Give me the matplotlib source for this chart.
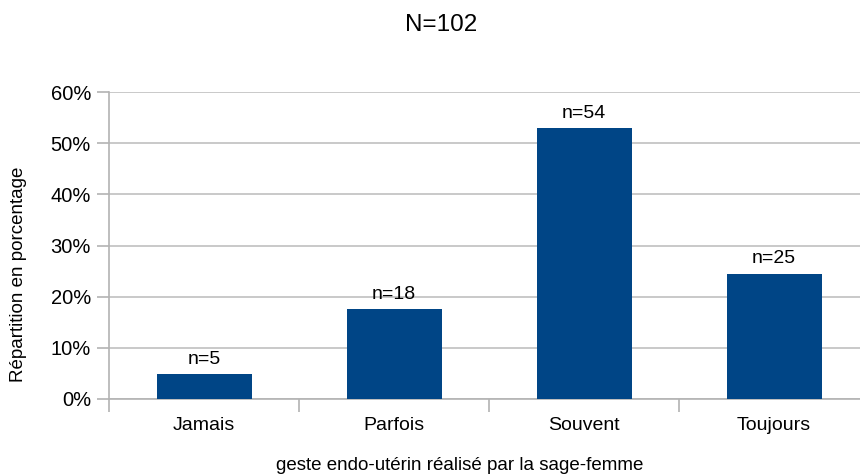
import matplotlib
matplotlib.use("Agg")
import matplotlib.pyplot as plt

categories = ["Jamais", "Parfois", "Souvent", "Toujours"]
counts = [5, 18, 54, 25]
total = 102
percent = [c / total * 100 for c in counts]
yticks = [0, 10, 20, 30, 40, 50, 60]

plt.rcParams['font.family'] = ['Liberation Sans', 'DejaVu Sans']

fig = plt.figure(figsize=(8.6, 4.74), dpi=100)
ax = fig.add_axes([109/860, 1 - 399/474, 760/860, (399-92)/474])

x = list(range(len(categories)))
ax.bar(x, percent, width=0.5, color="#004586", zorder=3)
for xi, p, c in zip(x, percent, counts):
    ax.text(xi, p + 1.2, f"n={c}", ha="center", va="bottom", fontsize=14, color="#000000")

ax.set_xlim(-0.5, len(categories) - 0.5)
ax.set_ylim(0, 60)
ax.set_yticks(yticks)
ax.set_yticklabels([f"{t}%" for t in yticks], fontsize=14.5)
ax.yaxis.grid(True, color="#c0c0c0", linewidth=1.2, zorder=0)
ax.set_xticks(x)
ax.set_xticklabels(categories, fontsize=14)
ax.tick_params(axis="x", length=0, pad=13)
ax.tick_params(axis="y", length=9, color="#b3b3b3", width=1.2, pad=4)
ax.set_xticks([i + 0.5 for i in range(-1, len(categories))], minor=True)
ax.tick_params(axis="x", which="minor", length=9, color="#b3b3b3", width=1.2)
for s in ["top", "right"]:
    ax.spines[s].set_visible(False)
for s in ["left", "bottom"]:
    ax.spines[s].set_color("#b3b3b3")
    ax.spines[s].set_linewidth(1.2)

fig.text(441/860, 1 - 25/474, "N=102", ha="center", va="center", fontsize=17.5)
fig.text(460/860, 1 - 466/474, "geste endo-utérin réalisé par la sage-femme", ha="center", va="center", fontsize=13.5)
fig.text(19/860, 1 - 274/474, "Répartition en porcentage", ha="center", va="center", rotation=90, fontsize=13.5)

fig.savefig("out.png", dpi=100)
